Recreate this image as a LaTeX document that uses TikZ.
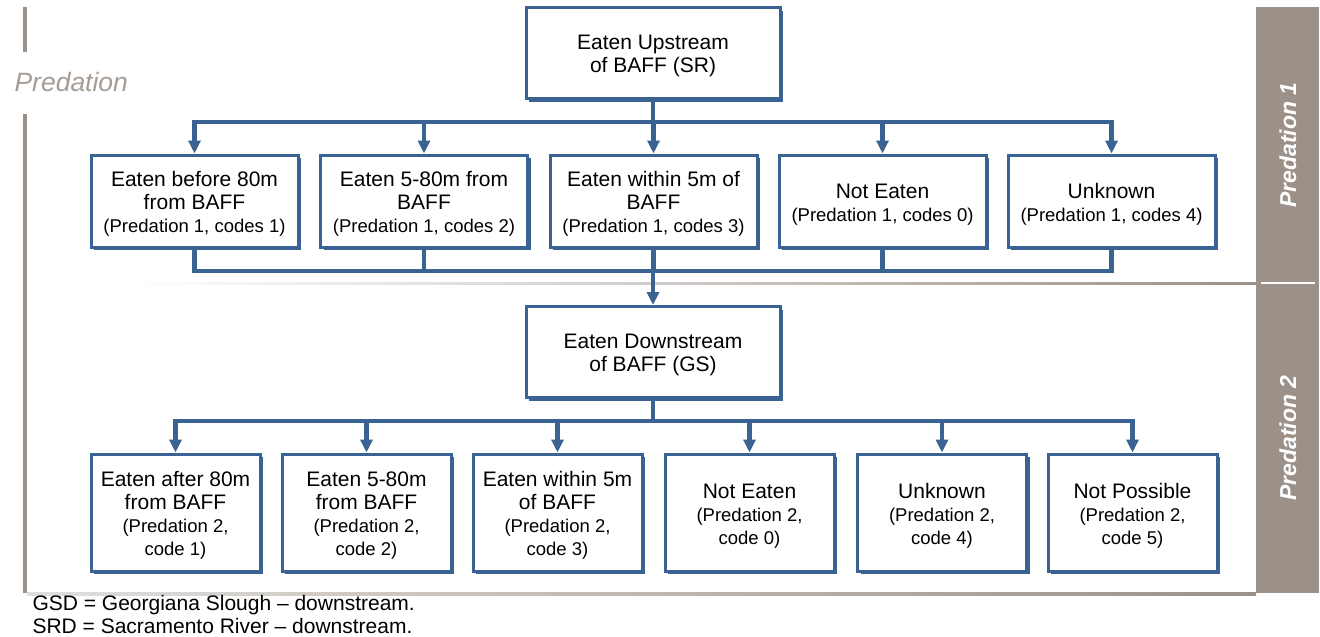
\documentclass[tikz,border=0pt]{standalone}
\usepackage{fontspec}
\setmainfont{Liberation Sans}
\usetikzlibrary{arrows.meta,shadows}
\definecolor{boxblue}{HTML}{3A6394}
\definecolor{panelgrey}{HTML}{9B9189}
\newcommand\cdf{\fontsize{18.5}{22}\selectfont}
\newcommand\tpst{\rule{0pt}{21pt}}
\tikzset{
  box/.style={draw=boxblue, line width=3pt, fill=white, inner sep=0pt, align=center,
    font=\fontsize{21}{23}\selectfont,
    drop shadow={shadow xshift=3pt,shadow yshift=-3pt,fill=boxblue,opacity=1}},
  boxA/.style={box, minimum width=207pt, minimum height=92pt},
  boxB/.style={box, minimum width=169pt, minimum height=117pt},
  boxC/.style={box, minimum width=254pt, minimum height=91pt},
  conn/.style={draw=boxblue, line width=4.5pt},
  bus/.style={conn, line cap=rect},
  arr/.style={conn, -{Triangle[width=12pt,length=13pt]}},
  side/.style={rotate=90, text=white, font=\fontsize{23}{26}\selectfont\bfseries\itshape},
}
\begin{document}
\begin{tikzpicture}[x=1pt,y=-1pt]
\useasboundingbox (0,0) rectangle (1320,637);
% frame
\fill[panelgrey] (1256,7) rectangle (1319,593);
\draw[white, line width=1.5pt] (1261,283) -- (1315,283);
\fill[panelgrey] (22.5,7) rectangle (27,52);
\fill[panelgrey] (22.5,114) rectangle (27,593);
\shade[left color=panelgrey!30, right color=panelgrey] (27,592) rectangle (1256,595);
\shade[left color=white, right color=panelgrey] (130,282) rectangle (1256,284.5);
\node[anchor=base west, text=panelgrey!90, font=\fontsize{26.5}{30}\selectfont\itshape] (plabel) at (11,91) {Predation};
\node[side] (p1) at (1288,145) {Predation 1};
\node[side] (p2) at (1288,438) {Predation 2};
% boxes
\node[boxC] (top) at (653,53) {\tpst Eaten Upstream\\of BAFF (SR)};
\node[boxA] (a1) at (194.5,201) {\tpst Eaten before 80m\\from BAFF\\{\cdf (Predation 1, codes 1)}};
\node[boxA] (a2) at (424,201) {\tpst Eaten 5-80m from\\BAFF\\{\cdf (Predation 1, codes 2)}};
\node[boxA] (a3) at (653.5,201) {\tpst Eaten within 5m of\\BAFF\\{\cdf (Predation 1, codes 3)}};
\node[boxA] (a4) at (882.5,201) {\tpst Not Eaten\\{\cdf (Predation 1, codes 0)}};
\node[boxA] (a5) at (1111.5,201) {\tpst Unknown\\{\cdf (Predation 1, codes 4)}};
\node[boxC] (mid) at (653,352) {\tpst Eaten Downstream\\of BAFF (GS)};
\node[boxB] (b1) at (175.5,512.5) {\tpst Eaten after 80m\\from BAFF\\{\cdf (Predation 2,}\\{\cdf code 1)}};
\node[boxB] (b2) at (366.5,512.5) {\tpst Eaten 5-80m\\from BAFF\\{\cdf (Predation 2,}\\{\cdf code 2)}};
\node[boxB] (b3) at (557.5,512.5) {\tpst Eaten within 5m\\of BAFF\\{\cdf (Predation 2,}\\{\cdf code 3)}};
\node[boxB] (b4) at (749.5,512.5) {\tpst Not Eaten\\{\cdf (Predation 2,}\\{\cdf code 0)}};
\node[boxB] (b5) at (942,512.5) {\tpst Unknown\\{\cdf (Predation 2,}\\{\cdf code 4)}};
\node[boxB] (b6) at (1132.5,512.5) {\tpst Not Possible\\{\cdf (Predation 2,}\\{\cdf code 5)}};
% connectors
\coordinate (u) at (653,122);
\coordinate (l) at (653,271);
\coordinate (m) at (653,421);
\draw[conn] (top.south) -- (top.south |- u);
\draw[bus] (a1.north |- u) -- (a5.north |- u);
\foreach \n in {a1,a2,a3,a4,a5} \draw[arr] (\n.north |- u) -- (\n.north);
\foreach \n in {a1,a2,a3,a4,a5} \draw[conn] (\n.south) -- (\n.south |- l);
\draw[bus] (a1.south |- l) -- (a5.south |- l);
\draw[arr] (l) -- (mid.north);
\draw[conn] (mid.south) -- (mid.south |- m);
\draw[bus] (b1.north |- m) -- (b6.north |- m);
\foreach \n in {b1,b2,b3,b4,b5,b6} \draw[arr] (\n.north |- m) -- (\n.north);
% footnote
\node[anchor=base west, font=\fontsize{21}{23}\selectfont] (n1) at (29,610) {GSD = Georgiana Slough – downstream.};
\node[anchor=base west, font=\fontsize{21}{23}\selectfont] (n2) at (29,633) {SRD = Sacramento River – downstream.};
\end{tikzpicture}
\end{document}
